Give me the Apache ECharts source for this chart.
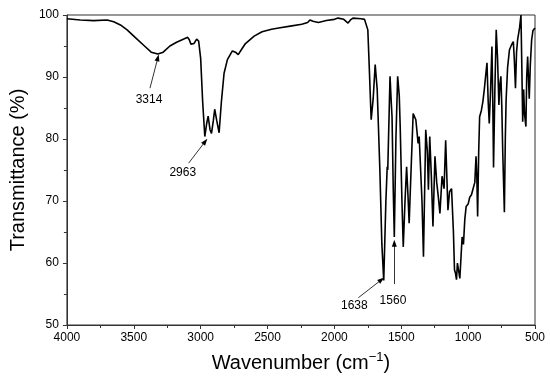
<!DOCTYPE html>
<html>
<head>
<meta charset="utf-8">
<script src="https://cdn.jsdelivr.net/npm/echarts@6/dist/echarts.min.js"></script>
<style>html,body{margin:0;padding:0;background:#fff}#c{width:550px;height:385px}</style>
</head>
<body>
<div id="c"></div>
<script>
const wavenumbers = [4000,3900,3800,3700,3650,3600,3550,3480,3420,3370,3320,3280,3230,3180,3130,3097,3085,3073,3050,3030,3015,3000,2985,2969,2955,2944,2930,2919,2905,2895,2880,2862,2845,2825,2800,2763,2740,2719,2690,2665,2600,2541,2470,2417,2330,2244,2200,2183,2160,2120,2060,2000,1972,1930,1898,1880,1861,1800,1775,1762,1750,1740,1725,1710,1695,1680,1660,1645,1631,1615,1605,1601,1584,1575,1569,1560,1552,1540,1527,1515,1508,1495,1485,1472,1460,1450,1441,1425,1411,1400,1391,1374,1366,1359,1345,1334,1317,1305,1297,1287,1275,1263,1248,1235,1223,1211,1195,1180,1168,1151,1139,1124,1110,1102,1094,1087,1080,1074,1062,1057,1045,1035,1025,1015,1000,988,975,959,950,941,935,929,921,914,901,890,879,870,859,850,842,832,822,815,810,800,790,780,770,762,755,748,741,735,729,722,716,705,691,675,662,655,646,638,630,615,605,598,592,585,578,568,562,555,549,543,535,525,515,500];
const transmittance = [99.4,99.2,99.1,99.2,98.9,98.4,97.6,96.2,95.0,94.0,93.7,94.0,95.0,95.6,96.1,96.4,96.0,95.3,95.4,96.1,95.8,93,86,80.4,82.5,83.7,81.5,80.9,83,84.8,83,81.0,86,90.6,92.8,94.2,94.0,93.6,94.6,95.4,96.6,97.3,97.7,97.9,98.2,98.5,98.8,99.2,99.0,98.8,99.1,99.3,99.5,99.3,98.7,99.2,99.5,99.4,99.3,99.1,97.6,92,83.1,86.5,92.0,88,75,63,57.2,70,75.5,75.0,90.1,86,83.6,72,64.2,80,90.1,87,82,70,62.6,70,75.5,71,66.4,76,84.1,84,83.1,79.3,80.4,80.4,70,61.0,81.5,78,71.8,80.4,74,65.9,77.2,73,70.7,68.0,74,72,79.8,68.5,71.5,72,65,58.9,58.3,57.3,60,60.0,57.5,57.5,64.2,63,67,69.1,69.5,70.6,71,72.3,73,77.2,74,67.5,78,83.6,84.6,86,88,90,92.3,86,82.5,88,94.9,85,75.4,88,97.6,93,85.5,89,90.1,85,77.7,73,68.2,80,86.3,91.5,94.4,95.2,95.7,93,88.2,94,96,98,100,91,82.8,88,84,82,90,93.3,90,86.5,92,96,97.5,97.9];

const peakLabels = ['3314','2963','1638','1560'];
const labelPos = [[3386,86.4],[3134,74.6],[1851,53.1],[1562,53.9]];
const arrowFrom = [[3379,88.2],[3090,76.1],[1821,54.4],[1552,56.6]];
const arrowTo = [[3320,93.1],[2966,79.6],[1648,57.3],[1552,63.2]];

const seriesData = wavenumbers.map((w,i)=>[w, transmittance[i]]);

const font = 'Liberation Sans, Arial, sans-serif';
const chart = echarts.init(document.getElementById('c'), null, {renderer:'canvas'});
chart.setOption({
  animation:false,
  backgroundColor:'#fff',
  grid:{left:63,right:15,top:15,bottom:60,show:true,borderColor:'#333',borderWidth:1,backgroundColor:'transparent'},
  xAxis:{
    type:'value',min:500,max:4000,interval:500,inverse:true,
    name:'{a|Wavenumber (cm}{s|−1}{a|)}',nameLocation:'middle',nameGap:26,
    nameTextStyle:{rich:{a:{fontSize:20,fontFamily:font,color:'#000',verticalAlign:'bottom',lineHeight:22},s:{fontSize:13,fontFamily:font,color:'#000',verticalAlign:'top',lineHeight:22,padding:[0,0,10,0]}}},
    axisLine:{lineStyle:{color:'#333',width:1}},
    axisTick:{length:4,lineStyle:{color:'#333'}},
    minorTick:{show:true,splitNumber:2,length:3,lineStyle:{color:'#333'}},
    axisLabel:{color:'#000',fontSize:12,fontFamily:font,margin:7,formatter:v=>String(v)},
    splitLine:{show:false}
  },
  yAxis:{
    type:'value',min:50,max:100,interval:10,
    name:'Transmittance (%)',nameLocation:'middle',nameGap:34,
    nameTextStyle:{fontSize:20,fontFamily:font,color:'#000'},
    axisLine:{show:true,lineStyle:{color:'#333',width:1}},
    axisTick:{show:true,length:4,lineStyle:{color:'#333'}},
    minorTick:{show:true,splitNumber:2,length:3,lineStyle:{color:'#333'}},
    axisLabel:{color:'#000',fontSize:12,fontFamily:font,margin:8},
    splitLine:{show:false}
  },
  series:[{
    type:'line',data:seriesData,showSymbol:false,symbol:'none',
    lineStyle:{color:'#000',width:1.6},
    markLine:{
      silent:true,symbol:['none','triangle'],symbolSize:[5,7],
      lineStyle:{color:'#000',width:0.8,type:'solid'},
      label:{show:false},
      data:arrowFrom.map((p,i)=>[{coord:p},{coord:arrowTo[i]}])
    },
    markPoint:{
      silent:true,symbol:'circle',symbolSize:0,
      label:{show:true,position:'inside',color:'#000',fontSize:12,fontFamily:font,formatter:p=>p.name},
      data:peakLabels.map((t,i)=>({name:t,coord:labelPos[i]}))
    }
  }]
});
</script>
</body>
</html>
